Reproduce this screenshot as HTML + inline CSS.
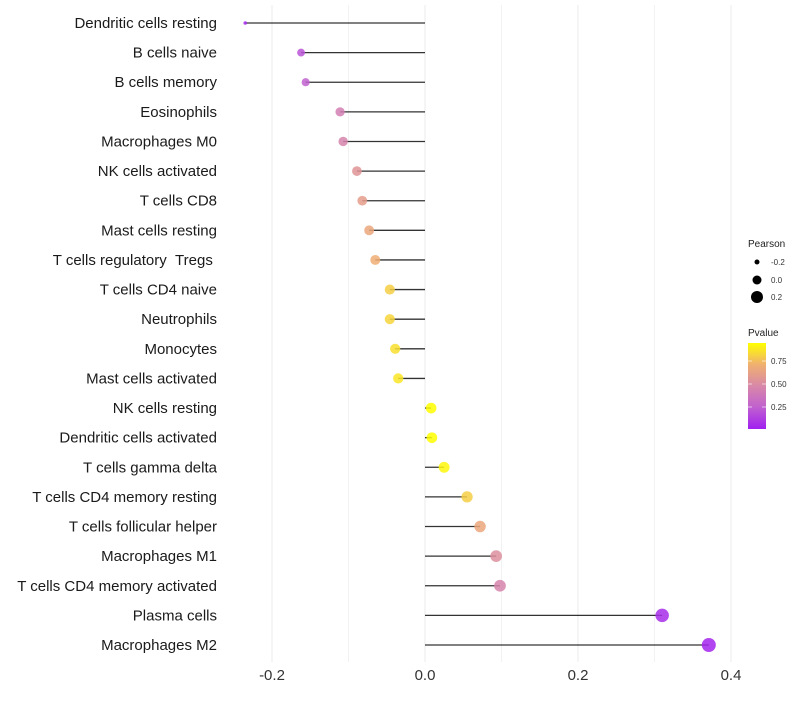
<!DOCTYPE html>
<html><head><meta charset="utf-8"><style>
body{margin:0;background:#fff;font-family:"Liberation Sans",sans-serif}
</style></head><body>
<svg id="chart" width="800" height="700" xmlns="http://www.w3.org/2000/svg">
<defs><linearGradient id="pg" x1="0" y1="1" x2="0" y2="0">
<stop offset="0" stop-color="#a020f0"/><stop offset="0.25" stop-color="#c060d0"/><stop offset="0.5" stop-color="#d888a8"/><stop offset="0.75" stop-color="#f0b070"/><stop offset="1" stop-color="#ffff00"/></linearGradient></defs>
<g id="grid"></g><g id="marks"></g><g id="labels"></g><g id="legend"></g>
</svg>
<script>
const cells=["Dendritic cells resting","B cells naive","B cells memory","Eosinophils","Macrophages M0","NK cells activated","T cells CD8","Mast cells resting","T cells regulatory\u00a0\u00a0Tregs\u00a0","T cells CD4 naive","Neutrophils","Monocytes","Mast cells activated","NK cells resting","Dendritic cells activated","T cells gamma delta","T cells CD4 memory resting","T cells follicular helper","Macrophages M1","T cells CD4 memory activated","Plasma cells","Macrophages M2"];
const pearson=[-0.235,-0.162,-0.156,-0.111,-0.107,-0.089,-0.082,-0.073,-0.065,-0.046,-0.046,-0.039,-0.035,0.008,0.009,0.025,0.055,0.072,0.093,0.098,0.31,0.371];
const pvalue=[0.05,0.2,0.25,0.42,0.46,0.55,0.6,0.66,0.7,0.8,0.82,0.85,0.87,0.97,0.97,0.92,0.8,0.66,0.52,0.46,0.06,0.03];
const xTicks=[-0.2,0,0.2,0.4];
const xTickLabels=["-0.2","0.0","0.2","0.4"];
const minorTicks=[-0.1,0.1,0.3];
const NS="http://www.w3.org/2000/svg";
const x=v=>425+v*765;
const y=i=>23+i*(622/21);
const rs=[[-0.3,1.5],[-0.235,1.8],[-0.16,4],[-0.1,4.8],[0,5.3],[0.1,5.9],[0.37,7],[0.5,7.5]];
function r(v){for(let k=1;k<rs.length;k++){if(v<=rs[k][0]){const a=rs[k-1],b=rs[k];return a[1]+(b[1]-a[1])*(v-a[0])/(b[0]-a[0]);}}return 7.5;}
const stops=[[0,[160,32,240]],[0.25,[192,96,208]],[0.5,[216,136,168]],[0.75,[240,176,112]],[1,[255,255,0]]];
function col(p){const t=Math.min(1,Math.max(0,(p-0.01)/(0.945-0.01)));for(let k=1;k<stops.length;k++){if(t<=stops[k][0]){const a=stops[k-1],b=stops[k],f=(t-a[0])/(b[0]-a[0]);return `rgb(${a[1].map((c,j)=>Math.round(c+(b[1][j]-c)*f)).join(',')})`;}}return 'rgb(255,255,0)';}
function mk(tag,at,parent,text){const e=document.createElementNS(NS,tag);for(const k in at)e.setAttribute(k,at[k]);if(text!==undefined)e.textContent=text;document.getElementById(parent).appendChild(e);return e;}
minorTicks.forEach(v=>{const e=mk('line',{x1:x(v),x2:x(v),y1:5,y2:662,stroke:'#f2f2f2','stroke-width':1},'grid');

});
xTicks.forEach((v,i)=>{const e=mk('line',{x1:x(v),x2:x(v),y1:5,y2:662,stroke:'#ebebeb','stroke-width':1},'grid');


const t=mk('text',{x:x(v),y:680,'text-anchor':'middle','font-size':15,fill:'#333'},'labels',xTickLabels[i]);

});
cells.forEach((c,i)=>{const l=mk('line',{x1:x(0),x2:x(pearson[i]),y1:y(i),y2:y(i),stroke:'#000','stroke-opacity':0.8,'stroke-width':1.3},'marks');


const p=mk('circle',{cx:x(pearson[i]),cy:y(i),r:r(pearson[i]),fill:col(pvalue[i]),'fill-opacity':0.85},'marks');


const t=mk('text',{x:217,y:y(i)+5,'text-anchor':'end','font-size':15,fill:'#1a1a1a'},'labels',c);

});
const lg=[[-0.2,262,2.5],[0,280,4.5],[0.2,297,6]];
let e=mk('text',{x:748,y:247,'font-size':10,fill:'#222'},'legend','Pearson');


lg.forEach(([v,yy,rr])=>{const c=mk('circle',{cx:757,cy:yy,r:rr,fill:'#000'},'legend');


const t=mk('text',{x:771,y:yy+3,'font-size':8,fill:'#333'},'legend',v===0?'0.0':String(v));

});
e=mk('text',{x:748,y:336,'font-size':10,fill:'#222'},'legend','Pvalue');


e=mk('rect',{x:748,y:343,width:18,height:86,fill:'url(#pg)'},'legend');


[[0.75,361],[0.5,384],[0.25,407]].forEach(([v,yy])=>{const t=mk('text',{x:771,y:yy+3,'font-size':8,fill:'#333'},'legend',v.toFixed(2));


mk('line',{x1:748,x2:752,y1:yy,y2:yy,stroke:'#fff','stroke-opacity':0.6},'legend');
mk('line',{x1:762,x2:766,y1:yy,y2:yy,stroke:'#fff','stroke-opacity':0.6},'legend');});
</script>
</body></html>
